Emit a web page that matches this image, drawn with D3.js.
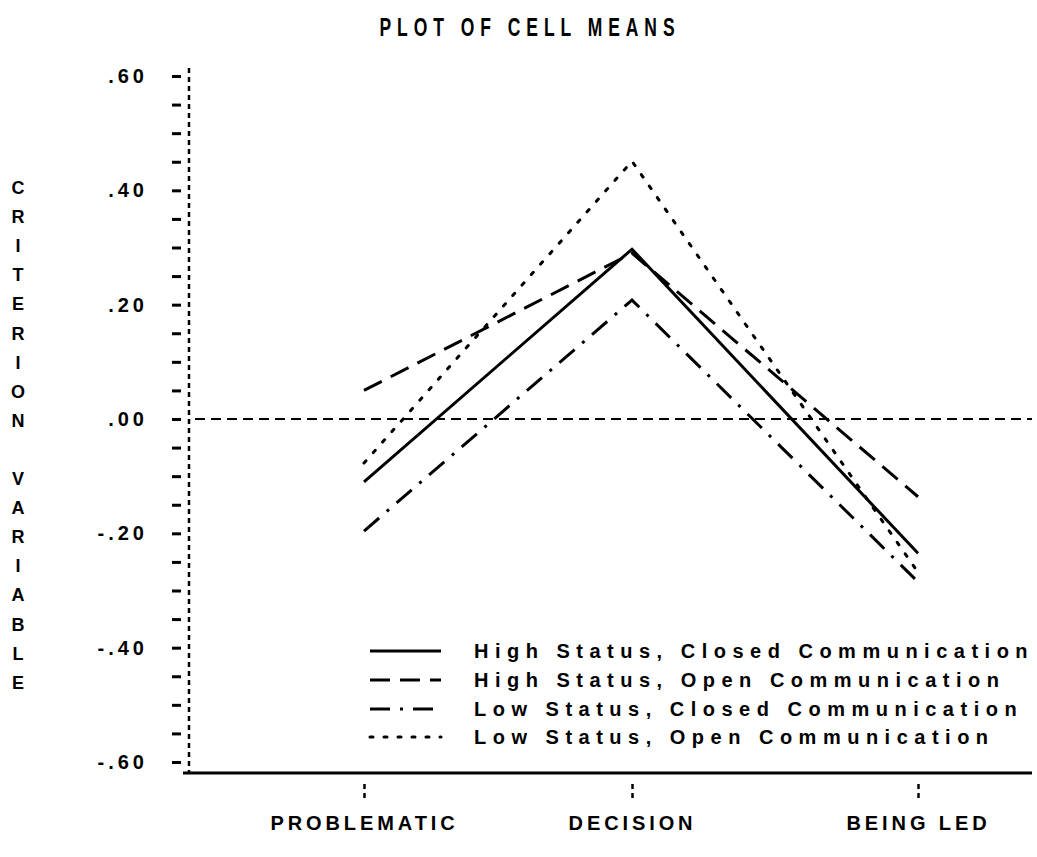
<!DOCTYPE html>
<html>
<head>
<meta charset="utf-8">
<script src="https://cdn.jsdelivr.net/npm/d3@7"></script>
<style>
  html, body { margin: 0; padding: 0; background: #fff; }
  svg { display: block; }
  text { font-family: "Liberation Sans", Arial, sans-serif; font-weight: bold; fill: #000; }
</style>
</head>
<body>
<svg id="chart" width="1037" height="857"></svg>
<script>
// ---- data ----
const categories = ["PROBLEMATIC", "DECISION", "BEING LED"];
const seriesNames = [
  "High Status, Closed Communication",
  "High Status, Open Communication",
  "Low Status, Closed Communication",
  "Low Status, Open Communication"
];
const highClosed = [-0.110, 0.297, -0.235];
const highOpen   = [0.050, 0.290, -0.136];
const lowClosed  = [-0.196, 0.208, -0.285];
const lowOpen    = [-0.077, 0.451, -0.268];
const yTickValues = [-0.60, -0.55, -0.50, -0.45, -0.40, -0.35, -0.30, -0.25, -0.20, -0.15, -0.10, -0.05,
                     0.00, 0.05, 0.10, 0.15, 0.20, 0.25, 0.30, 0.35, 0.40, 0.45, 0.50, 0.55, 0.60];
const yLabelValues = [-0.60, -0.40, -0.20, 0.00, 0.20, 0.40, 0.60];
const title = "PLOT OF CELL MEANS";
const yTitle = "CRITERION VARIABLE";

const seriesValues = [highClosed, highOpen, lowClosed, lowOpen];
const dashStyles = [null, "20,10", "20,10,3,10", "3,11"];

// ---- layout ----
const svg = d3.select("#chart");
const y = d3.scaleLinear().domain([-0.6, 0.6]).range([762, 76]);
const x = d3.scaleOrdinal().domain(categories).range([364, 632, 918]);
const axisX = 189;
const baseY = 773;

// title (condensed plotter-like lettering)
svg.append("text")
  .attr("transform", "translate(530,36) scale(0.7,1)")
  .attr("text-anchor", "middle")
  .style("font-size", "25px")
  .style("letter-spacing", "8.5px")
  .text(title);

// y-axis vertical title (stacked letters)
const yt = svg.append("text")
  .attr("text-anchor", "middle")
  .style("font-size", "18px");
yTitle.split("").forEach((ch, i) => {
  yt.append("tspan").attr("x", 18).attr("y", 194 + i * 29.1).text(ch === " " ? "\u00a0" : ch);
});

// y axis: dotted vertical line
svg.append("line")
  .attr("x1", axisX).attr("x2", axisX)
  .attr("y1", y(0.6) - 8).attr("y2", baseY)
  .attr("stroke", "#000").attr("stroke-width", 2.5)
  .attr("stroke-dasharray", "5,4");

const fmt = v => {
  const s = Math.abs(v).toFixed(2).replace(/^0/, "");
  return (v < -1e-9 ? "-" : "") + s;
};
const yAxis = d3.axisLeft(y)
  .tickValues(yTickValues)
  .tickSize(9)
  .tickPadding(24)
  .tickFormat(v => yLabelValues.some(l => Math.abs(l - v) < 1e-6) ? fmt(v) : "");
const gy = svg.append("g").attr("transform", `translate(${axisX - 8},0)`).call(yAxis);
gy.select(".domain").remove();
gy.selectAll(".tick line").attr("stroke", "#000").attr("stroke-width", 3);
gy.selectAll(".tick text")
  .style("font-size", "20px")
  .style("letter-spacing", "4px")
  .style("font-family", "'Liberation Sans', Arial, sans-serif")
  .attr("fill", "#000");

// x baseline
svg.append("line")
  .attr("x1", 183).attr("x2", 1032)
  .attr("y1", baseY).attr("y2", baseY)
  .attr("stroke", "#000").attr("stroke-width", 3);

// zero reference line
svg.append("line")
  .attr("x1", 195).attr("x2", 1032)
  .attr("y1", y(0)).attr("y2", y(0))
  .attr("stroke", "#000").attr("stroke-width", 2)
  .attr("stroke-dasharray", "10,6");

// x category ticks and labels
const xAxis = d3.axisBottom(x).tickSize(0).tickPadding(0);
const gx = svg.append("g").attr("transform", `translate(0,${baseY})`).call(xAxis);
gx.select(".domain").remove();
gx.selectAll(".tick line").remove();
gx.selectAll(".tick").append("line")
  .attr("x1", 0).attr("x2", 0).attr("y1", 11).attr("y2", 25)
  .attr("stroke", "#000").attr("stroke-width", 2.5)
  .attr("stroke-dasharray", "5,4");
gx.selectAll(".tick text")
  .attr("y", 57)
  .attr("dy", 0)
  .style("font-size", "20px")
  .style("letter-spacing", "3.9px")
  .style("font-family", "'Liberation Sans', Arial, sans-serif")
  .attr("fill", "#000");

// series lines
const line = d3.line().x((d, i) => x(categories[i])).y(d => y(d));
seriesValues.forEach((vals, k) => {
  svg.append("path")
    .datum(vals)
    .attr("d", line)
    .attr("fill", "none")
    .attr("stroke", "#000")
    .attr("stroke-width", 3)
    .attr("stroke-linecap", k === 3 ? "round" : "butt")
    .attr("stroke-dasharray", dashStyles[k]);
});

// legend
const legendRows = [651, 680, 709, 737];
seriesNames.forEach((name, k) => {
  const g = svg.append("g").attr("transform", `translate(0,${legendRows[k]})`);
  g.append("line")
    .attr("x1", 370).attr("x2", 441).attr("y1", 0).attr("y2", 0)
    .attr("stroke", "#000").attr("stroke-width", 3)
    .attr("stroke-linecap", k === 3 ? "round" : "butt")
    .attr("stroke-dasharray", dashStyles[k]);
  g.append("text")
    .attr("x", 474).attr("y", 7)
    .style("font-size", "20px")
    .style("letter-spacing", "6.5px")
    .text(name);
});
</script>
</body>
</html>
